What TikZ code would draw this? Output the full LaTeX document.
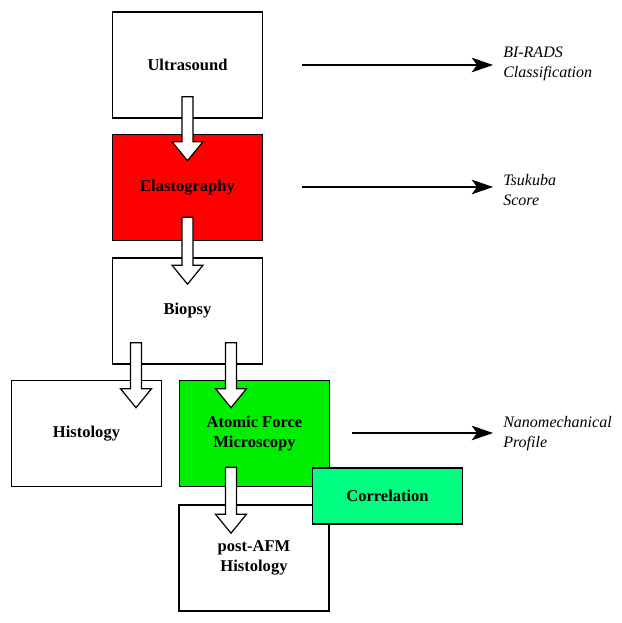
\documentclass[tikz,border=0pt]{standalone}
\usepackage{fontspec}
\setmainfont{Liberation Serif}
\usepackage{xcolor}
\usetikzlibrary{arrows.meta}
\usetikzlibrary{calc}
\definecolor{elastored}{RGB}{255,0,0}
\definecolor{afmgreen}{RGB}{0,238,0}
\definecolor{corrgreen}{RGB}{0,255,128}
% hollow block arrow from #1 down to its tip #2
\newcommand{\blockarr}[2]{%
\draw[blockarrow] ($(#1)+(-5.5,0)$) -- ($(#2)+(-5.5,-19)$) -- ($(#2)+(-15.5,-19)$) -- (#2)
  -- ($(#2)+(15.5,-19)$) -- ($(#2)+(5.5,-19)$) -- ($(#1)+(5.5,0)$) -- cycle;}

\begin{document}
\begin{tikzpicture}[x=0.75pt,y=-0.75pt,
  stagebox/.style={draw=black,line width=1.2pt,minimum width=112.5pt,minimum height=79.5pt,
    inner sep=2pt,align=center,font=\fontsize{12.4}{15}\selectfont\bfseries},
  resultlabel/.style={anchor=west,inner sep=0pt,align=left,font=\fontsize{12}{15}\selectfont\itshape},
  blockarrow/.style={draw=black,fill=white,line width=0.9pt,line join=miter},
  resultarrow/.style={line width=0.8pt,-{Stealth[length=16pt,width=11pt,inset=4pt]}}]
\useasboundingbox (0,0) rectangle (621,623);

\node[stagebox] (us) at (187.5,65) {Ultrasound};
\node[stagebox,fill=elastored] (el) at (187.5,187.5) {Elastography};
\node[stagebox] (bi) at (187.5,311) {Biopsy};
\node[stagebox] (hi) at (86.5,433.5) {Histology};
\node[stagebox,fill=afmgreen] (afm) at (254.5,433.5) {Atomic Force\\Microscopy};
\node[stagebox] (post) at (254,558) {post-AFM\\Histology};
\node[stagebox,fill=corrgreen,minimum height=42pt] (corr) at (387.5,496) {Correlation};

% block arrows between the stages
\coordinate (usS) at ($(us.south)+(0,-22)$);
\coordinate (elN) at ($(el.north)+(0,27)$);
\coordinate (elS) at ($(el.south)+(0,-24)$);
\coordinate (biN) at ($(bi.north)+(0,27)$);
\coordinate (biSl) at ($(bi.south)+(-51.5,-22)$);
\coordinate (hiN) at ($(hi.north)+(49.5,28)$);
\coordinate (biSr) at ($(bi.south)+(43.5,-22)$);
\coordinate (afmN) at ($(afm.north)+(-23.5,28)$);
\coordinate (afmS) at ($(afm.south)+(-23.5,-20)$);
\coordinate (postN) at ($(post.north)+(-23,29)$);
\blockarr{usS}{elN}
\blockarr{elS}{biN}
\blockarr{biSl}{hiN}
\blockarr{biSr}{afmN}
\blockarr{afmS}{postN}

% results
\node[resultlabel] (birads) at (503,64) {BI-RADS\\Classification};
\node[resultlabel] (tsu) at (503,190) {Tsukuba\\Score};
\node[resultlabel] (nano) at (503,434) {Nanomechanical\\Profile};
\coordinate (usR) at (302,65);
\coordinate (elR) at (302,187);
\coordinate (afmR) at (352,433);
\draw[resultarrow,shorten >=7.5pt] (usR) -- (usR -| birads.west);
\draw[resultarrow,shorten >=7.5pt] (elR) -- (elR -| tsu.west);
\draw[resultarrow,shorten >=7.5pt] (afmR) -- (afmR -| nano.west);
\end{tikzpicture}
\end{document}
